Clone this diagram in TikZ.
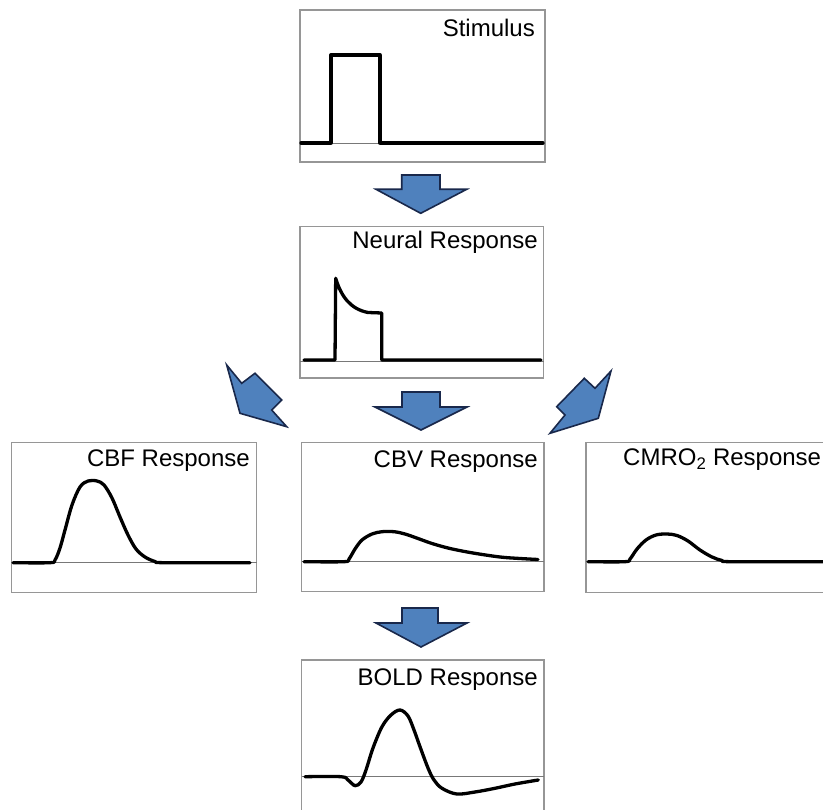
\documentclass[tikz,border=0pt]{standalone}
\usepackage{fontspec}
\setmainfont{Liberation Sans}
\definecolor{arrowblue}{RGB}{79,129,189}
\definecolor{arrowedge}{RGB}{25,40,75}
\definecolor{framegray}{RGB}{150,150,150}
\definecolor{basegray}{RGB}{120,120,120}
\begin{document}
\begin{tikzpicture}[x=1pt,y=-1pt,
  panel/.style={draw=framegray, line width=1.2pt, inner sep=0pt, outer sep=0pt, rectangle},
  lbl/.style={font=\fontsize{24}{28}\selectfont, inner sep=0pt},
  curve/.style={line width=3.3pt, line join=round, line cap=round},
  baseln/.style={draw=basegray, line width=0.8pt},
  blockarrow/.style={fill=arrowblue, draw=arrowedge, line width=1.6pt, line join=miter}]
\useasboundingbox (0,0) rectangle (823,810);

% panels
\node[panel, minimum width=245pt, minimum height=152pt] (stim) at (422.5,86) {};
\node[panel, minimum width=243.5pt, minimum height=151.3pt] (neural) at (421.75,302.35) {};
\node[panel, minimum width=245pt, minimum height=150pt] (cbf) at (134.2,517.7) {};
\node[panel, minimum width=242.3pt, minimum height=149pt] (cbv) at (422.85,517.2) {};
\node[panel, minimum width=245pt, minimum height=150pt] (cmro) at (708.5,517.7) {};
\node[panel, minimum width=242.3pt, minimum height=152pt] (bold) at (422.85,736) {};

% labels
\node[lbl, anchor=base east] (tstim) at (535,37) {Stimulus};
\node[lbl, anchor=base east] (tneural) at (538,249) {Neural Response};
\node[lbl, anchor=base east] (tcbf) at (250,467) {CBF Response};
\node[lbl, anchor=base east] (tcbv) at (538,468) {CBV Response};
\node[lbl, anchor=base west] (tcmro) at (623,466) {CMRO\textsubscript{2} Response};
\node[lbl, anchor=base east] (tbold) at (538,685) {BOLD Response};

% baselines
\draw[baseln] (300,143) -- (545,143);
\draw[baseln] (300,361) -- (543.5,361);
\draw[baseln] (11.7,562.7) -- (256.7,562.7);
\draw[baseln] (301.7,561.7) -- (544,561.7);
\draw[baseln] (586,561.7) -- (831,561.7);
\draw[baseln] (301.7,776.7) -- (544,776.7);

% curves
\draw[curve] (301,143) -- (331,143) -- (331,55) -- (380,55) -- (380,143) -- (543,143);
\draw[curve] (304,360) -- (335,360) -- (335.7,278.3)
  .. controls (341,296) and (350,309) .. (368,312.5) -- (381.7,313) -- (381.7,360) -- (541,360);
\draw[curve] plot[smooth, tension=0.55] coordinates {(13,562.7) (50,562.7) (55,560) (60,548) (65,530) (72,505) (80,487) (88,481) (97,481) (104,485) (112,498) (120,517) (128,535) (136,549) (145,557) (155,561.5) (165,562.7) (250,562.7)};
\draw[curve] plot[smooth, tension=0.55] coordinates {(304,561.7) (344,561.7) (349,559) (355,549) (362,540) (372,534) (382,531.7) (394,531.7) (405,534) (418,538.5) (432,543.5) (450,548.5) (473,553) (500,557) (520,558.5) (538,559.5)};
\draw[curve] plot[smooth, tension=0.55] coordinates {(588,561.7) (625,561.7) (630,559) (637,549) (646,540) (656,535) (667,534) (677,535.5) (688,541) (700,550) (712,557) (722,560.5) (732,561.7) (828,561.7)};
\draw[curve] plot[smooth, tension=0.55] coordinates {(305,776.7) (341,776.7) (348,780) (355,785.7) (361,782) (366,770) (373,748) (382,726.7) (391,715) (400,710) (408,716) (414,730) (420,746.7) (428,768) (434,780) (442,788.3) (456.7,794) (475,792) (495,788.3) (515,784) (538.3,780)};

% block arrows
\draw[blockarrow] (401.7,175) -- (440,175) -- (440,189.3) -- (466.7,189.3) -- (420.7,213.3) -- (376,189.3) -- (401.7,189.3) -- cycle;
\draw[blockarrow] (402,392) -- (440,392) -- (440,407) -- (467,407) -- (421,430) -- (375,407) -- (402,407) -- cycle;
\draw[blockarrow] (402,608) -- (438,608) -- (438,623) -- (467,623) -- (421,647) -- (376,623) -- (402,623) -- cycle;
\draw[blockarrow] (226.7,365) -- (241.7,383.3) -- (255,373.3) -- (281.7,400) -- (271.7,410) -- (286.7,426.7) -- (240,413.3) -- cycle;
\draw[blockarrow] (584.3,378.3) -- (556.7,406.7) -- (565,415) -- (550,433.3) -- (598.3,418.3) -- (611,371) -- (595,388.3) -- cycle;
\end{tikzpicture}
\end{document}
